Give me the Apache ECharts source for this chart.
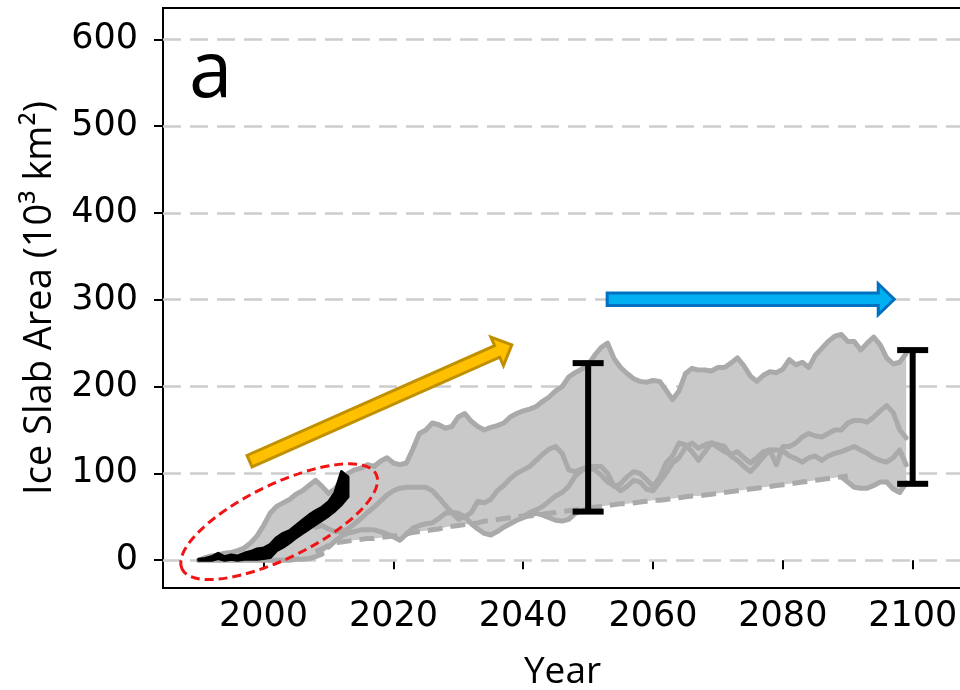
<!DOCTYPE html>
<html><head><meta charset="utf-8">
<script src="https://cdn.jsdelivr.net/npm/echarts@6/dist/echarts.min.js"></script>
<style>html,body{margin:0;padding:0;background:#fff}#c{width:960px;height:690px}</style>
</head><body><div id="c"></div>
<script>
// ---- tick labels ----
const xTicks = [2000, 2020, 2040, 2060, 2080, 2100];
const yTicks = [0, 100, 200, 300, 400, 500, 600];

// ---- scenario envelope (upper) ----
const upperStart = 1990;
const upper = [
  0, 3, 5, 6, 8, 9, 11, 14, 20, 28,
  40, 54, 62, 66, 70, 76, 80, 86, 92, 85,
  77, 82, 92, 100, 104, 106, 110, 108, 114, 118,
  112, 110, 112, 128, 146, 150, 158, 156, 152, 154,
  165, 169, 160, 154, 150, 153, 155, 158, 165, 169,
  172, 174, 177, 183, 188, 195, 200, 211, 216, 220,
  225, 236, 245, 250, 232, 222, 215, 209, 206, 205,
  207, 206, 196, 185, 195, 215, 221, 219, 219, 218,
  222, 222, 227, 233, 224, 212, 206, 213, 217, 216,
  220, 231, 225, 228, 222, 236, 244, 252, 258, 260,
  252, 252, 242, 250, 257, 248, 233, 226, 228, 238
];
// ---- middle scenario A ----
const midAStart = 2008;
const midA = [
  38, 40,
  36, 33, 33, 36, 42, 48, 55, 61, 68, 75,
  80, 83, 84, 84, 84, 84, 80, 72, 63, 55,
  47, 50, 55, 68, 66, 70, 80, 86, 94, 100,
  104, 108, 115, 122, 128, 131, 123, 104, 102, 105,
  108, 108, 108, 100, 85, 88, 96, 102, 100, 93,
  85, 95, 112, 120, 135, 133, 125, 115, 125, 135,
  133, 131, 120, 115, 108, 102, 110, 119, 127, 110,
  131, 131, 135, 142, 146, 143, 142, 146, 150, 150,
  158, 161, 161, 159, 165, 172, 178, 170, 150, 141
];
// ---- middle scenario B ----
const midBStart = 2040;
const midB = [
  50, 55, 58, 62, 68, 74, 78, 85, 97, 103,
  107, 104, 98, 90, 86, 80, 85, 92, 90, 82,
  80, 90, 100, 112, 118, 130, 135, 129, 133, 135,
  130, 125, 122, 125, 118, 112, 118, 125, 127, 127,
  126, 120, 117, 113, 118, 120, 115, 120, 123, 125,
  128, 131, 127, 123, 118, 115, 113, 118, 127, 110
];
// ---- low scenario (solid) ----
const lowStart = 2010;
const low = [
  15, 22, 28, 31, 33, 35, 35, 35, 33, 30,
  27, 23, 30, 37, 40, 42, 43, 48, 54, 55,
  54, 50, 42, 36, 31, 29, 33, 38, 42, 46,
  49, 52, 54, 52, 49, 46, 45, 47, 54, 57,
  60, null, null, null, null, null, null, null, null, null,
  null, null, null, null, null, null, null, null, null, null,
  null, null, null, null, null, null, null, null, null, null,
  null, null, null, null, null, null, null, null, null, 96,
  90, 84, 83, 83, 86, 90, 90, 82, 78, 89
];
// ---- dashed low trend ----
const trendStart = 2008;
const trend = [
  10, 13,
  17, 20, 21, 22, 23, 24, 25, 25, 26, 27,
  28, 29, 30, 32, 33, 34, 35, 36, 38, 39,
  40, 41, 42, 43, 45, 46, 47, 48, 49, 50,
  51, 51, 52, 53, 54, 55, 56, 57, 58, 59,
  60, 61, 62, 63, 64, 65, 65, 66, 67, 68,
  69, 69, 70, 71, 72, 73, 74, 74, 75, 76,
  77, 78, 79, 80, 81, 82, 83, 84, 85, 86,
  87, 88, 89, 90, 91, 92, 93, 94, 95, 96,
  97
];
// ---- early lower edge ----
const baseStart = 1990;
const base = [0, 0, 0, 0, 0, 0, 0, 0, 0, 0, 0, 0, 0, 0, 0, 1, 1, 2, 4, 7];
// ---- observations (black band) ----
const obsStart = 1990;
const obsHigh = [1, 2, 4, 8, 4, 6, 5, 8, 10, 13, 14, 18, 26, 31, 34, 40, 46, 52, 57, 61, 67, 78, 102, 96];
const obsLow  = [0, 0, 0, 2, 0, 1, 0, 1, 1, 1, 2, 3, 11, 15, 20, 26, 31, 36, 41, 46, 51, 57, 64, 73];
// ---- error bars ----
const errYears = [2050, 2100];
const errLow = [56, 88];
const errHigh = [227, 242];
// ---- annotation anchors (data coords) ----
const yellowArrow = {from: [1997.84, 114], to: [2038.24, 248]};
const blueArrow = {from: [2052.93, 300.6], to: [2097.16, 300.6]};
const ellipseCenter = [2002.39, 44.4];

const pairs = (arr, start) => arr.map((v, i) => [start + i, v]);
const allLines = [[upper, upperStart], [midA, midAStart], [midB, midBStart], [low, lowStart], [trend, trendStart], [base, baseStart]];
const bandYears = upper.map((_, i) => upperStart + i);
const bandHi = [], bandLo = [];
bandYears.forEach(y => {
  const vals = [];
  allLines.forEach(([a, s]) => { const i = y - s; if (i >= 0 && i < a.length && a[i] != null) vals.push(a[i]); });
  bandHi.push(Math.max(...vals)); bandLo.push(Math.min(...vals));
});

const GRAY = '#aaaaaa';
const chart = echarts.init(document.getElementById('c'));
const lineSeries = (data, dashed) => ({
  type: 'line', data, symbol: 'none', silent: true, connectNulls: false, z: 11,
  lineStyle: {color: GRAY, width: 5, type: dashed ? [15, 8] : 'solid', cap: dashed ? 'butt' : 'round', join: 'round'}
});

chart.setOption({
  animation: false,
  grid: {left: 163, top: 8, right: -2, bottom: 102, show: true, borderColor: '#000', borderWidth: 2,
    containLabel: false, outerBoundsMode: 'none'},
  xAxis: {
    type: 'value', min: 1984.5, max: 2107.6,
    name: 'Year', nameLocation: 'middle', nameGap: 66,
    nameTextStyle: {fontFamily: 'Open Sans', fontSize: 37, color: '#000'},
    axisLine: {show: false}, splitLine: {show: false},
    axisTick: {show: true, customValues: xTicks, length: 9, lineStyle: {color: '#000', width: 2}},
    axisLabel: {customValues: xTicks, margin: 11, fontFamily: 'DejaVu Sans', fontSize: 35, color: '#000', formatter: v => String(v)}
  },
  yAxis: {
    type: 'value', min: -32, max: 636,
    name: 'Ice Slab Area (10³ km²)', nameLocation: 'middle', nameGap: 104,
    nameTextStyle: {fontFamily: 'Open Sans', fontSize: 38, color: '#000'},
    axisLine: {show: false}, splitLine: {show: false},
    axisTick: {show: true, customValues: yTicks, length: 9, lineStyle: {color: '#000', width: 2}},
    axisLabel: {customValues: yTicks, margin: 25, fontFamily: 'DejaVu Sans', fontSize: 35, color: '#000', formatter: v => String(v)}
  },
  series: [
    { type: 'line', data: [], z: 1, silent: true,
      markLine: {silent: true, z: 1, symbol: ['none', 'none'], label: {show: false},
        lineStyle: {color: '#cdcdcd', width: 2.5, type: [18, 9]},
        data: yTicks.map(v => ({yAxis: v}))} },
    { type: 'custom', z: 10, silent: true, data: [[2000, 0]],
      renderItem: (params, api) => {
        const pts = [];
        bandYears.forEach((y, i) => pts.push(api.coord([y, bandHi[i]])));
        for (let i = bandYears.length - 1; i >= 0; i--) pts.push(api.coord([bandYears[i], bandLo[i]]));
        return {type: 'polygon', shape: {points: pts}, style: {fill: '#c9c9c9'}};
      } },
    lineSeries(pairs(base, baseStart)),
    lineSeries(pairs(low, lowStart)),
    lineSeries(pairs(midB, midBStart)),
    lineSeries(pairs(midA, midAStart)),
    lineSeries(pairs(upper, upperStart)),
    lineSeries(pairs(trend, trendStart), true),
    { type: 'custom', z: 12, silent: true, data: [[2000, 0]],
      renderItem: (params, api) => {
        const pts = [];
        obsHigh.forEach((v, i) => pts.push(api.coord([obsStart + i, v])));
        for (let i = obsLow.length - 1; i >= 0; i--) pts.push(api.coord([obsStart + i, obsLow[i]]));
        return {type: 'polygon', shape: {points: pts}, style: {fill: '#000', stroke: '#000', lineWidth: 3, lineJoin: 'round'}};
      } },
    { type: 'custom', z: 13, silent: true,
      data: errYears.map((y, i) => [y, errLow[i], errHigh[i]]),
      encode: {x: 0, y: [1, 2]},
      renderItem: (params, api) => {
        const a = api.coord([api.value(0), api.value(1)]);
        const b = api.coord([api.value(0), api.value(2)]);
        const st = {stroke: '#000', lineWidth: 6};
        const cw = 15.5;
        return {type: 'group', children: [
          {type: 'line', shape: {x1: a[0], y1: a[1], x2: b[0], y2: b[1]}, style: st},
          {type: 'line', shape: {x1: a[0] - cw, y1: a[1], x2: a[0] + cw, y2: a[1]}, style: st},
          {type: 'line', shape: {x1: b[0] - cw, y1: b[1], x2: b[0] + cw, y2: b[1]}, style: st}
        ]};
      } }
  ]
});

function arrowPoints(from, to, w, h, L) {
  const T = chart.convertToPixel({gridIndex: 0}, from);
  const P = chart.convertToPixel({gridIndex: 0}, to);
  const dx = P[0] - T[0], dy = P[1] - T[1], len = Math.hypot(dx, dy);
  const ux = dx / len, uy = dy / len, nx = -uy, ny = ux;
  const B = [P[0] - ux * L, P[1] - uy * L];
  return [
    [T[0] + nx * w, T[1] + ny * w], [B[0] + nx * w, B[1] + ny * w], [B[0] + nx * h, B[1] + ny * h],
    P,
    [B[0] - nx * h, B[1] - ny * h], [B[0] - nx * w, B[1] - ny * w], [T[0] - nx * w, T[1] - ny * w]
  ];
}
const ec = chart.convertToPixel({gridIndex: 0}, ellipseCenter);
chart.setOption({
  graphic: [
    {type: 'polygon', z: 20, silent: true, shape: {points: arrowPoints(yellowArrow.from, yellowArrow.to, 6.3, 15.5, 16)},
      style: {fill: '#FFC000', stroke: '#BF9000', lineWidth: 3, lineJoin: 'miter'}},
    {type: 'polygon', z: 20, silent: true, shape: {points: arrowPoints(blueArrow.from, blueArrow.to, 6.3, 15.5, 16)},
      style: {fill: '#00B0F0', stroke: '#0070C0', lineWidth: 3, lineJoin: 'miter'}},
    {type: 'ellipse', z: 21, silent: true, x: ec[0], y: ec[1], rotation: 26 * Math.PI / 180,
      shape: {cx: 0, cy: 0, rx: 108, ry: 37},
      style: {fill: 'transparent', stroke: '#f01414', lineWidth: 3, lineDash: [9, 5]}},
    {type: 'text', z: 21, silent: true, x: 189, y: 36,
      style: {text: 'a', fontFamily: 'Open Sans', fontSize: 78, fill: '#000', align: 'left', verticalAlign: 'top'}}
  ]
});
</script></body></html>
